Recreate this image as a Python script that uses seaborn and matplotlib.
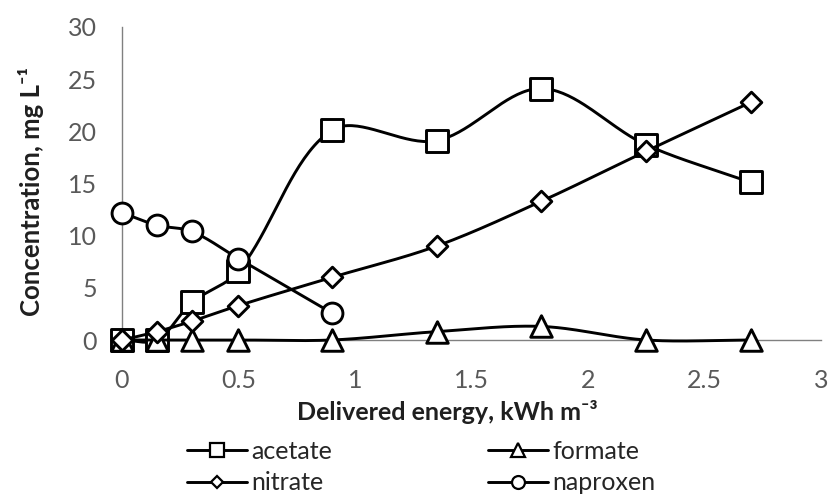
import numpy as np
import pandas as pd
import matplotlib
matplotlib.use("Agg")
import matplotlib.pyplot as plt
from matplotlib.lines import Line2D
import seaborn as sns

# Delivered energy (kWh m^-3) at each sampling point
energy = [0, 0.15, 0.3, 0.5, 0.9, 1.35, 1.8, 2.25, 2.7]
energy_naproxen = [0, 0.15, 0.3, 0.5, 0.9]

# Concentrations (mg L^-1)
acetate = [0, 0, 3.6, 6.6, 20.1, 19.1, 24.1, 18.7, 15.1]
formate = [0, 0, 0, 0, 0, 0.8, 1.3, 0, 0]
nitrate = [0, 0.8, 1.8, 3.3, 6.0, 9.0, 13.3, 18.1, 22.8]
naproxen = [12.2, 11.0, 10.4, 7.8, 2.6]

series_names = ["acetate", "formate", "nitrate", "naproxen"]
x_ticks = [0, 0.5, 1, 1.5, 2, 2.5, 3]
x_tick_labels = ["0", "0.5", "1", "1.5", "2", "2.5", "3"]
y_ticks = [0, 5, 10, 15, 20, 25, 30]

sns.set_theme(style="white")
plt.rcParams["font.family"] = ["Lato", "DejaVu Sans"]


def smooth_path(ax, xs, ys, n=40):
    """Bezier smoothing through every point, built in screen space with
    chord-length weighted tangents, then mapped back to data space."""
    p = ax.transData.transform(np.column_stack([xs, ys]).astype(float))
    m = len(p)
    d = np.linalg.norm(np.diff(p, axis=0), axis=1)
    tang = np.zeros_like(p)
    for i in range(m):
        prev_ = p[max(i - 1, 0)]
        next_ = p[min(i + 1, m - 1)]
        tang[i] = next_ - prev_
    out = [p[:1]]
    t = np.linspace(0, 1, n)[1:, None]
    for i in range(m - 1):
        p1, p2 = p[i], p[i + 1]
        d_prev = d[i - 1] if i > 0 else 0.0
        d_next = d[i + 1] if i + 1 < m - 1 else 0.0
        c1 = p1 + tang[i] * d[i] / (d_prev + d[i]) / 3.0 if (d_prev + d[i]) > 0 else p1
        c2 = p2 - tang[i + 1] * d[i] / (d[i] + d_next) / 3.0 if (d[i] + d_next) > 0 else p2
        seg = ((1 - t) ** 3) * p1 + 3 * ((1 - t) ** 2) * t * c1 \
            + 3 * (1 - t) * t ** 2 * c2 + t ** 3 * p2
        out.append(seg)
    pts = ax.transData.inverted().transform(np.vstack(out))
    return pts[:, 0], pts[:, 1]


fig = plt.figure(figsize=(8.29, 4.95), dpi=100)
ax = fig.add_axes([122 / 829, 1 - 340 / 495, (821 - 122) / 829, (340 - 27) / 495])
ax.set_xlim(0, 3)
ax.set_ylim(0, 30)

styles = {
    "acetate": dict(marker="s", ms=15.5),
    "formate": dict(marker="^", ms=15.5),
    "nitrate": dict(marker="D", ms=10.5),
    "naproxen": dict(marker="o", ms=15.0),
}
data = {
    "acetate": (energy, acetate),
    "formate": (energy, formate),
    "nitrate": (energy, nitrate),
    "naproxen": (energy_naproxen, naproxen),
}

lw = 2.1
z = 3
for name in series_names:
    xs, ys = data[name]
    sx, sy = smooth_path(ax, xs, ys)
    curve = pd.DataFrame({"x": sx, "y": sy})
    sns.lineplot(data=curve, x="x", y="y", sort=False, estimator=None,
                 color="black", linewidth=lw, ax=ax, zorder=z, clip_on=False)
    pts = pd.DataFrame({"x": xs, "y": ys})
    st = styles[name]
    sns.scatterplot(data=pts, x="x", y="y", marker=st["marker"], s=st["ms"] ** 2,
                    color="white", edgecolor="black", linewidth=lw,
                    ax=ax, zorder=z + 0.5, clip_on=False)
    z += 1

ax.set_xlim(0, 3)
ax.set_ylim(0, 30)
ax.set_xticks(x_ticks)
ax.set_xticklabels(x_tick_labels)
ax.set_yticks(y_ticks)
ax.set_yticklabels([str(v) for v in y_ticks])
ax.tick_params(axis="both", length=0, labelsize=18, colors="#595959")
ax.tick_params(axis="x", pad=21)
ax.tick_params(axis="y", pad=18)

for side in ["top", "right"]:
    ax.spines[side].set_visible(False)
for side in ["left", "bottom"]:
    ax.spines[side].set_color("#808080")
    ax.spines[side].set_linewidth(1.0)
    ax.spines[side].set_zorder(1)

ax.set_xlabel("Delivered energy, kWh m\u207b\u00b3", fontsize=18, fontweight="bold",
              color="#1f1f1f", va="center")
ax.xaxis.set_label_coords((447 - 122) / (821 - 122), (340 - 412) / (340 - 27))
ax.set_ylabel("Concentration, mg L\u207b\u00b9", fontsize=18.5, fontweight="bold",
              color="#1f1f1f", va="center")
ax.yaxis.set_label_coords((31 - 122) / (821 - 122), (340 - 191) / (340 - 27))

handles = []
for name in ["acetate", "nitrate", "formate", "naproxen"]:
    st = styles[name]
    handles.append(Line2D([0], [0], color="black", linewidth=lw, marker=st["marker"],
                          markersize=st["ms"] * 0.62, markerfacecolor="white",
                          markeredgecolor="black", markeredgewidth=1.6, label=name))
fig.legend(handles=handles, loc="center", bbox_to_anchor=(0.508, 1 - 467 / 495),
           ncol=2, frameon=False, fontsize=18, handlelength=2.4, handletextpad=0.2,
           columnspacing=6.2, labelspacing=0.35, borderpad=0,
           labelcolor="#262626")

fig.savefig("out.png", dpi=100)
